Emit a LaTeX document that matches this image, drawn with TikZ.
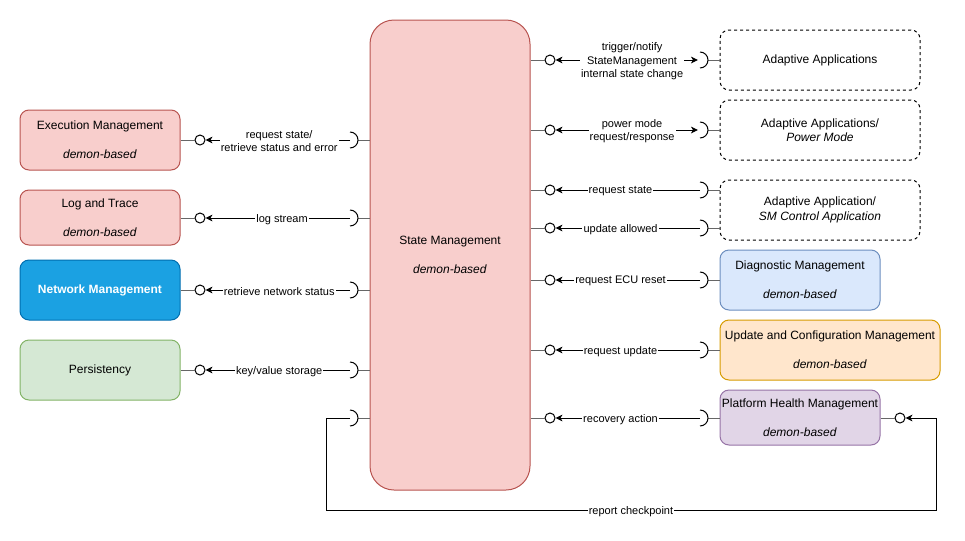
\documentclass[tikz,border=0pt]{standalone}
\usepackage{fontspec}
\setmainfont{Liberation Sans}
\usetikzlibrary{arrows.meta}
\definecolor{redF}{HTML}{F8CECC}
\definecolor{redD}{HTML}{B85450}
\definecolor{bluF}{HTML}{1BA1E2}
\definecolor{bluD}{HTML}{006EAF}
\definecolor{grnF}{HTML}{D5E8D4}
\definecolor{grnD}{HTML}{82B366}
\definecolor{lbF}{HTML}{DAE8FC}
\definecolor{lbD}{HTML}{6C8EBF}
\definecolor{orF}{HTML}{FFE6CC}
\definecolor{orD}{HTML}{D79B00}
\definecolor{puF}{HTML}{E1D5E7}
\definecolor{puD}{HTML}{9673A6}
\definecolor{stubc}{HTML}{666666}
\newcommand\mysock[1]{\draw[sockline] ([yshift=6pt]#1) arc[start angle=90,end angle=-90,radius=6pt];}
\begin{document}
\begin{tikzpicture}[x=0.75pt,y=-0.75pt,
  box/.style={draw, line width=0.75pt, rounded corners=6.75pt, align=center,
    font=\fontsize{9}{10.8}\selectfont, inner sep=0pt, minimum height=45pt},
  dbox/.style={box, dash pattern=on 2.25pt off 2.25pt, minimum width=150pt},
  lbl/.style={fill=white, font=\fontsize{8.25}{10}\selectfont, inner sep=0.8pt, align=center, yshift=-0.9pt},
  ball/.style={circle, draw, line width=0.75pt, fill=white, minimum size=7.5pt, inner sep=0pt},
  sockline/.style={draw, line width=0.75pt},
  stub/.style={draw=stubc, line width=0.75pt},
  arr/.style={draw, line width=0.75pt, -{Stealth[length=5.25pt,width=5pt,inset=1.5pt]}},
  arrb/.style={draw, line width=0.75pt, {Stealth[length=5.25pt,width=5pt,inset=1.5pt]}-{Stealth[length=5.25pt,width=5pt,inset=1.5pt]}, shorten >=1.5pt}
]
\useasboundingbox (0,0) rectangle (965,540);

% main block
\node[box, fill=redF, draw=redD, rounded corners=18pt, minimum width=120pt, minimum height=352.5pt] (sm) at (450,255)
  {State Management\\[11pt]\textit{demon-based}};

% left boxes
\node[box, fill=redF, draw=redD, minimum width=120pt, text depth=0pt] (ex) at (100,140) {Execution Management\\[11pt]\textit{demon-based}};
\node[box, fill=redF, draw=redD, minimum width=120pt, minimum height=41.25pt] (lt) at (100,217.5) {Log and Trace\\[11pt]\textit{demon-based}};
\node[box, fill=bluF, draw=bluD, minimum width=120pt, text=white, font=\fontsize{9}{10.8}\selectfont\bfseries] (nm) at (100,290) {Network Management};
\node[box, fill=grnF, draw=grnD, minimum width=120pt] (ps) at (100,370) {Persistency};

% right boxes
\node[dbox] (aa) at (820,60) {Adaptive Applications};
\node[dbox] (pm) at (820,130) {Adaptive Applications/\\\textit{Power Mode}};
\node[dbox] (sc) at (820,210) {Adaptive Application/\\\textit{SM Control Application}};
\node[box, fill=lbF, draw=lbD, minimum width=120pt] (dm) at (800,280) {Diagnostic Management\\[11pt]\textit{demon-based}};
\node[box, fill=orF, draw=orD, minimum width=165pt] (uc) at (830,350) {Update and Configuration Management\\[11pt]\textit{demon-based}};
\node[box, fill=puF, draw=puD, minimum width=120pt, minimum height=41.25pt] (ph) at (800,417.5) {Platform Health Management\\[11pt]\textit{demon-based}};

% left interfaces
\coordinate (sL1) at (350,140);
\coordinate (sL2) at (350,218);
\coordinate (sL3) at (350,290);
\coordinate (sL4) at (350,370);
\coordinate (sL5) at (350,418);
\node[ball] (bL1) at (200,140) {};
\node[ball] (bL2) at (200,218) {};
\node[ball] (bL3) at (200,290) {};
\node[ball] (bL4) at (200,370) {};

\draw[stub] (ex.east |- bL1) -- (bL1);
\draw[stub] (lt.east |- bL2) -- (bL2);
\draw[stub] (nm.east |- bL3) -- (bL3);
\draw[stub] (ps.east |- bL4) -- (bL4);
\foreach \s in {sL1,sL2,sL3,sL4,sL5}{
  \draw[stub] ([xshift=6pt]\s) -- (sm.west |- \s);
  \mysock{\s}
}
\draw[arr] (sL1) -- node[lbl, pos=0.49] {request state/\\retrieve status and error} (bL1);
\draw[arr] (sL2) -- node[lbl, pos=0.47] {log stream} (bL2);
\draw[arr] (sL3) -- node[lbl, pos=0.49] {retrieve network status} (bL3);
\draw[arr] (sL4) -- node[lbl, pos=0.49] {key/value storage} (bL4);

% right interfaces
\coordinate (sR1) at (700,60);
\coordinate (sR2) at (700,130);
\coordinate (sR3) at (700,190);
\coordinate (sR4) at (700,228);
\coordinate (sR5) at (700,280);
\coordinate (sR6) at (700,350);
\coordinate (sR7) at (700,418);
\foreach \i in {1,...,7}{
  \node[ball] (bR\i) at (550,0 |- sR\i) {};
  \draw[stub] (sm.east |- sR\i) -- (bR\i);
  \draw[stub] ([xshift=6pt]sR\i) -- (720,0 |- sR\i);
  \mysock{sR\i}
}
\draw[arrb] (bR1) -- node[lbl, pos=0.53] {trigger/notify\\StateManagement\\internal state change} (sR1);
\draw[arrb] (bR2) -- node[lbl, pos=0.53] {power mode\\request/response} (sR2);
\draw[arr] (sR3) -- node[lbl, pos=0.55] {request state} (bR3);
\draw[arr] (sR4) -- node[lbl, pos=0.55] {update allowed} (bR4);
\draw[arr] (sR5) -- node[lbl, pos=0.55] {request ECU reset} (bR5);
\draw[arr] (sR6) -- node[lbl, pos=0.55] {request update} (bR6);
\draw[arr] (sR7) -- node[lbl, pos=0.55] {recovery action} (bR7);

% platform health checkpoint loop
\node[ball] (bPH) at (900,418) {};
\draw[stub] (ph.east |- bPH) -- (bPH);
\draw[arr] (sL5) -- (326,418) -- (326,510) -- node[lbl] {report checkpoint} (936,510) -- (936,418) -- (bPH);
\end{tikzpicture}
\end{document}
